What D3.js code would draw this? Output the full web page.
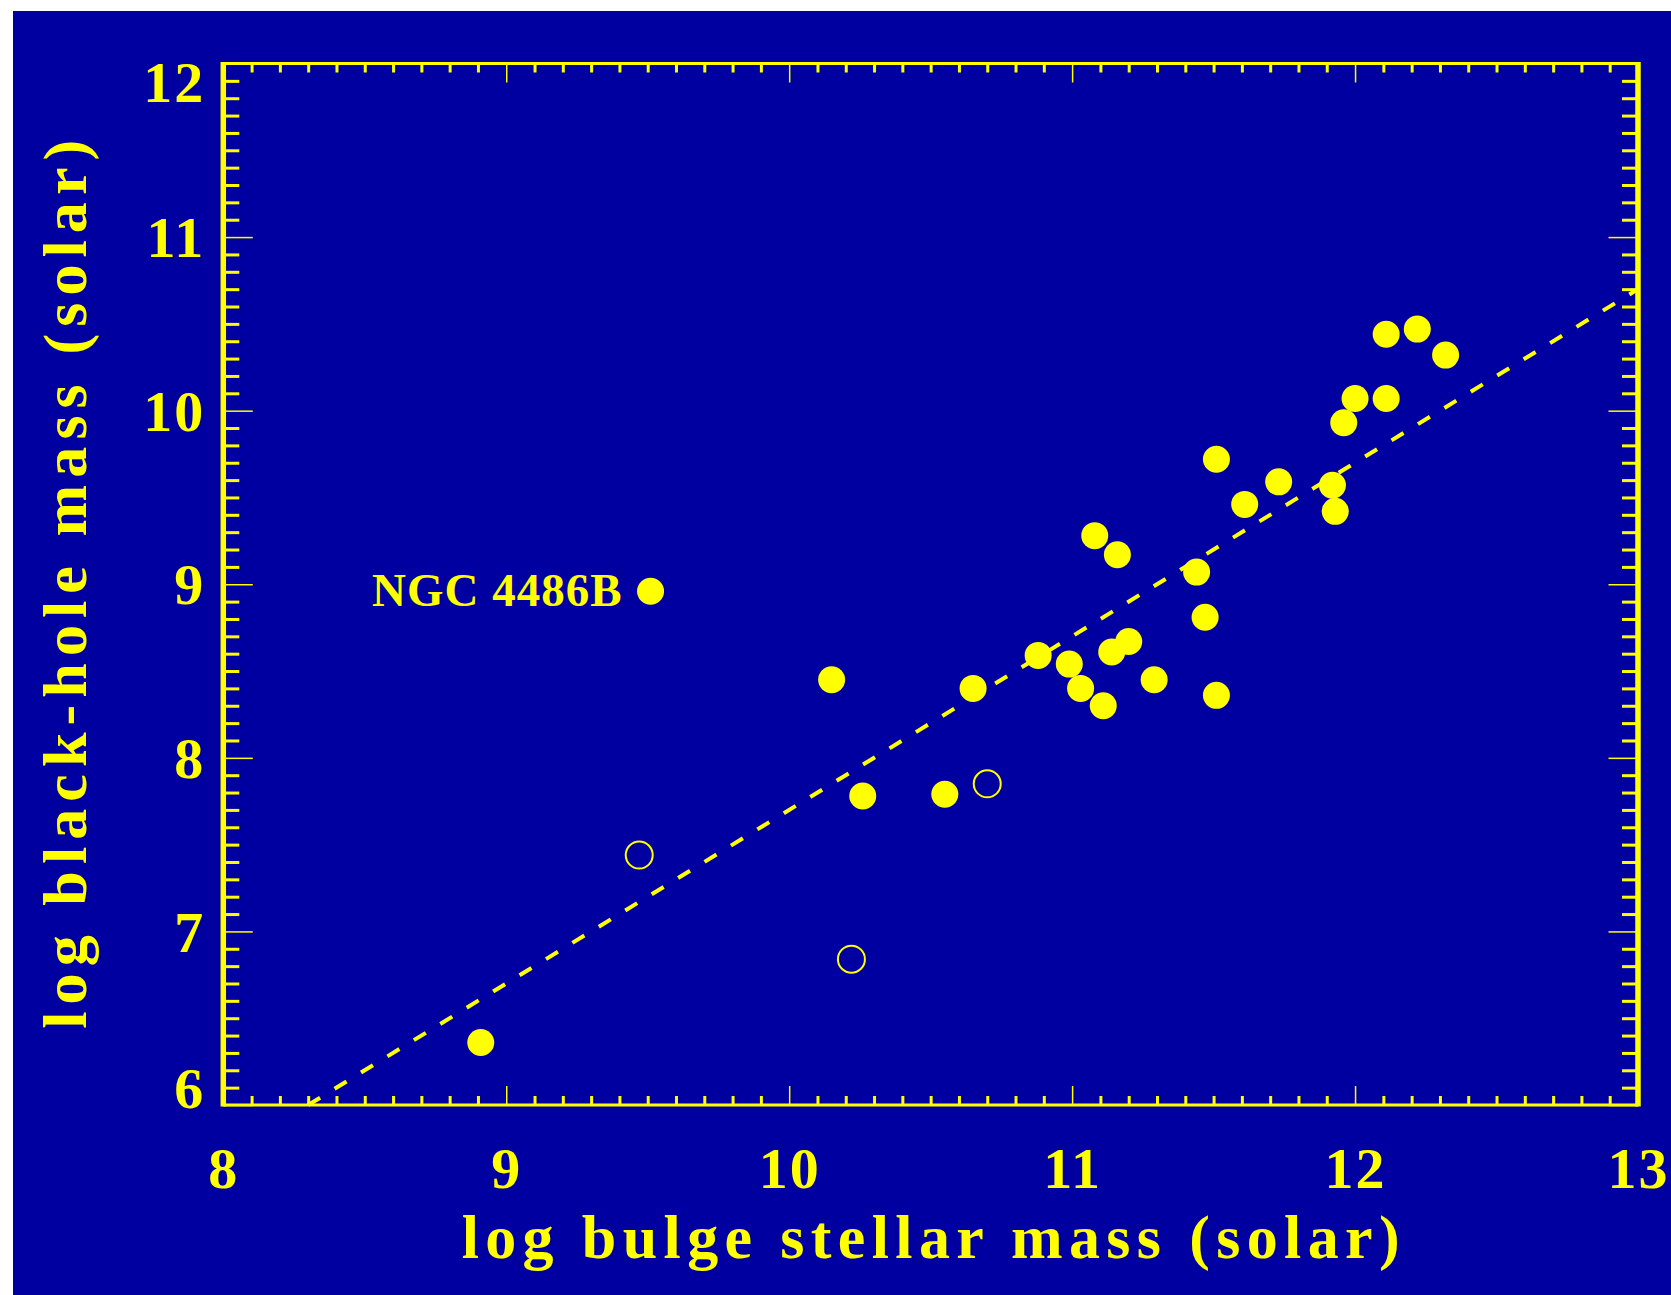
<!DOCTYPE html>
<html>
<head>
<meta charset="utf-8">
<script src="https://cdn.jsdelivr.net/npm/d3@7"></script>
<style>
  body { margin: 0; background: #fff; }
  text { font-family: "Liberation Serif", "Times New Roman", serif; font-weight: bold; fill: #ffff00; }
</style>
</head>
<body>
<div id="chart"></div>
<script>
// data
const filledX = [8.91, 9.51, 10.15, 10.26, 10.55, 10.65, 10.88, 10.99, 11.03, 11.11,
  11.14, 11.20, 11.29, 11.08, 11.16, 11.44, 11.47, 11.51, 11.51, 11.61,
  11.73, 11.92, 11.93, 11.96, 12.00, 12.11, 12.11, 12.22, 12.32];
const filledY = [6.36, 8.96, 8.45, 7.78, 7.79, 8.40, 8.59, 8.54, 8.40, 8.30,
  8.61, 8.67, 8.45, 9.28, 9.17, 9.07, 8.81, 8.36, 9.72, 9.46,
  9.59, 9.57, 9.42, 9.93, 10.07, 10.07, 10.44, 10.47, 10.32];
const openX = [9.47, 10.22, 10.70];
const openY = [7.44, 6.84, 7.85];
const fitX = [8.3, 13];
const fitY = [6.0, 10.7];
const xTicks = [8, 9, 10, 11, 12, 13];
const yTicks = [6, 7, 8, 9, 10, 11, 12];
const labelText = "NGC 4486B";
const labelIndex = 1;

const W = 1671, H = 1295;
const plotLeft = 223.3, plotRight = 1638, plotTop = 63.5, plotBottom = 1105;
const yellow = "#ffff00";

const svg = d3.select("#chart").append("svg")
  .attr("width", W)
  .attr("height", H);

svg.append("rect")
  .attr("x", 13).attr("y", 11)
  .attr("width", W - 13).attr("height", H - 11)
  .attr("fill", "#0000a0");

const x = d3.scaleLinear().domain([8, 13]).range([plotLeft, plotRight]);
const y = d3.scaleLinear().domain([6, 12]).range([plotBottom, plotTop]);

const xMinor = d3.range(8, 13.001, 0.1).filter(v => Math.abs(v - Math.round(v)) > 0.01);
const yMinor = d3.range(6, 12.001, 0.1).filter(v => Math.abs(v - Math.round(v)) > 0.01);

function styleAxis(g, width) {
  g.select(".domain").remove();
  g.selectAll(".tick line").attr("stroke", yellow).attr("stroke-width", width);
}

// minor ticks, all four sides
svg.append("g").attr("transform", `translate(0,${plotBottom})`)
  .call(d3.axisBottom(x).tickValues(xMinor).tickSize(-9).tickFormat(""))
  .call(g => styleAxis(g, 3));
svg.append("g").attr("transform", `translate(0,${plotTop})`)
  .call(d3.axisTop(x).tickValues(xMinor).tickSize(-9).tickFormat(""))
  .call(g => styleAxis(g, 3));
svg.append("g").attr("transform", `translate(${plotLeft},0)`)
  .call(d3.axisLeft(y).tickValues(yMinor).tickSize(-16).tickFormat(""))
  .call(g => styleAxis(g, 3));
svg.append("g").attr("transform", `translate(${plotRight},0)`)
  .call(d3.axisRight(y).tickValues(yMinor).tickSize(-16).tickFormat(""))
  .call(g => styleAxis(g, 3));

// major ticks
svg.append("g").attr("transform", `translate(0,${plotBottom})`)
  .call(d3.axisBottom(x).tickValues(xTicks).tickSize(-19).tickPadding(42).tickFormat(d3.format("d")))
  .call(g => styleAxis(g, 1.5))
  .call(g => g.selectAll(".tick text")
    .attr("fill", yellow).style("font-size", "58px").style("letter-spacing", "2px"));
svg.append("g").attr("transform", `translate(0,${plotTop})`)
  .call(d3.axisTop(x).tickValues(xTicks).tickSize(-19).tickFormat(""))
  .call(g => styleAxis(g, 1.5));
svg.append("g").attr("transform", `translate(${plotLeft},0)`)
  .call(d3.axisLeft(y).tickValues(yTicks).tickSize(-29.5).tickPadding(18).tickFormat(d3.format("d")))
  .call(g => styleAxis(g, 1.5))
  .call(g => g.selectAll(".tick text")
    .attr("fill", yellow).style("font-size", "58px").style("letter-spacing", "2px")
    .attr("dy", d => d === 12 ? "0.66em" : d === 6 ? "0.05em" : "0.34em"));
svg.append("g").attr("transform", `translate(${plotRight},0)`)
  .call(d3.axisRight(y).tickValues(yTicks).tickSize(-29.5).tickFormat(""))
  .call(g => styleAxis(g, 1.5));

// frame
svg.append("line").attr("x1", plotLeft).attr("x2", plotRight).attr("y1", plotTop).attr("y2", plotTop)
  .attr("stroke", yellow).attr("stroke-width", 3);
svg.append("line").attr("x1", plotLeft).attr("x2", plotRight).attr("y1", plotBottom).attr("y2", plotBottom)
  .attr("stroke", yellow).attr("stroke-width", 3);
svg.append("line").attr("x1", plotLeft).attr("x2", plotLeft).attr("y1", plotTop - 1.5).attr("y2", plotBottom + 1.5)
  .attr("stroke", yellow).attr("stroke-width", 5.5);
svg.append("line").attr("x1", plotRight).attr("x2", plotRight).attr("y1", plotTop - 1.5).attr("y2", plotBottom + 1.5)
  .attr("stroke", yellow).attr("stroke-width", 5.5);

// dashed fit line
const line = d3.line().x(d => x(d[0])).y(d => y(d[1]));
svg.append("path")
  .datum(d3.zip(fitX, fitY))
  .attr("d", line)
  .attr("fill", "none")
  .attr("stroke", yellow)
  .attr("stroke-width", 4)
  .attr("stroke-dasharray", "14 17");

// points
svg.append("g").selectAll("circle")
  .data(d3.zip(filledX, filledY))
  .join("circle")
  .attr("cx", d => x(d[0]))
  .attr("cy", d => y(d[1]))
  .attr("r", 13.5)
  .attr("fill", yellow);

svg.append("g").selectAll("circle")
  .data(d3.zip(openX, openY))
  .join("circle")
  .attr("cx", d => x(d[0]))
  .attr("cy", d => y(d[1]))
  .attr("r", 13.5)
  .attr("fill", "none")
  .attr("stroke", yellow)
  .attr("stroke-width", 2);

// label for the outlier
svg.append("text")
  .attr("x", x(filledX[labelIndex]) - 28)
  .attr("y", y(filledY[labelIndex]) + 15)
  .attr("text-anchor", "end")
  .style("font-size", "47px")
  .style("letter-spacing", "1px")
  .text(labelText);

// axis titles
svg.append("text")
  .attr("x", (plotLeft + plotRight) / 2)
  .attr("y", 1258)
  .attr("text-anchor", "middle")
  .attr("textLength", 938)
  .attr("lengthAdjust", "spacing")
  .style("font-size", "62px")
  .text("log bulge stellar mass (solar)");

svg.append("text")
  .attr("transform", `translate(86,${(plotTop + plotBottom) / 2}) rotate(-90)`)
  .attr("text-anchor", "middle")
  .attr("textLength", 889)
  .attr("lengthAdjust", "spacing")
  .style("font-size", "62px")
  .text("log black-hole mass (solar)");
</script>
</body>
</html>
